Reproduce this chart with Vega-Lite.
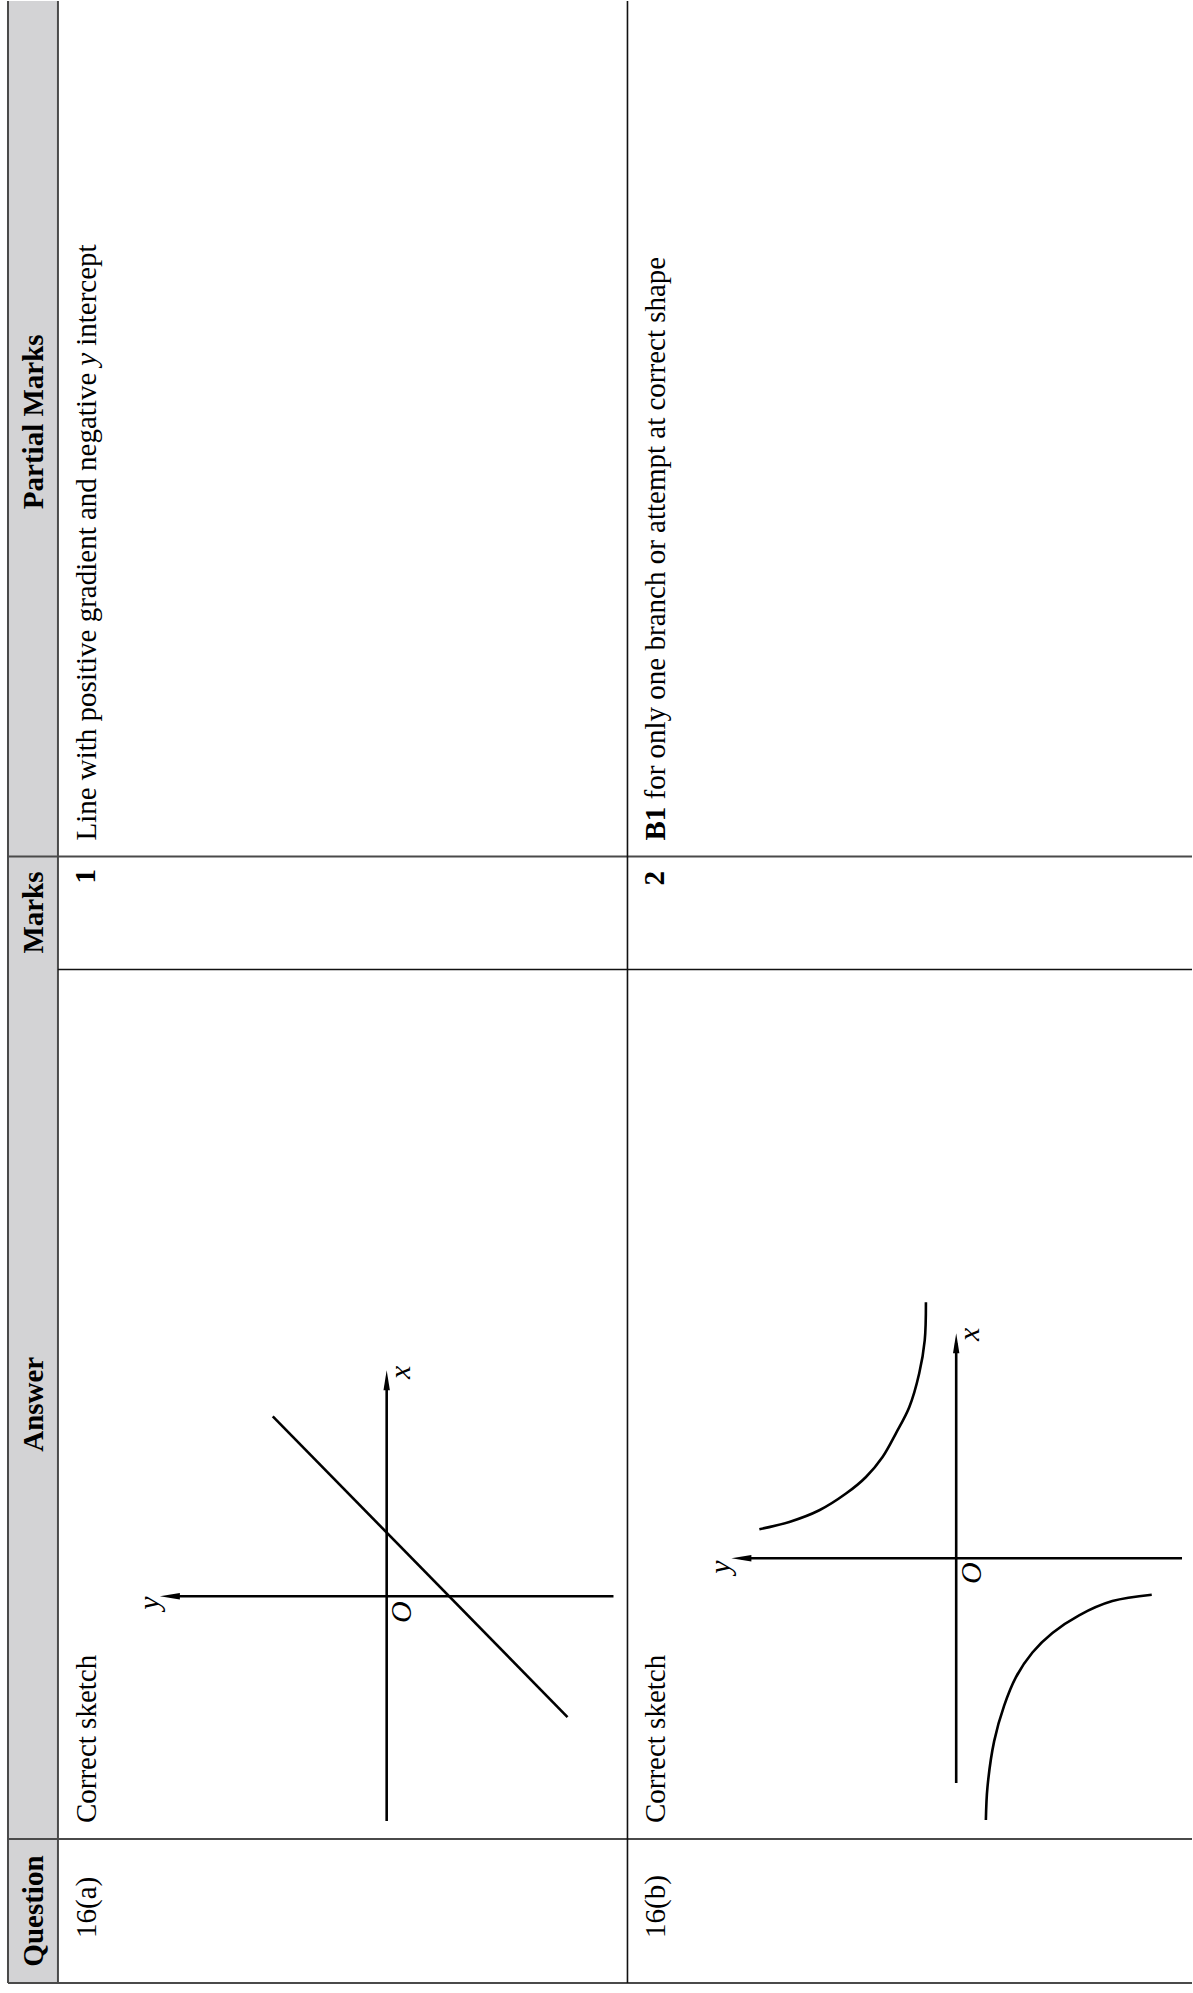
{
  "$schema": "https://vega.github.io/schema/vega-lite/v6.json",
  "width": 1193,
  "height": 1993,
  "autosize": {"type": "fit", "contains": "padding"},
  "padding": 0,
  "background": "white",
  "config": {"view": {"stroke": null}, "axis": {"disable": true}, "legend": {"disable": true}},
  "datasets": {
    "header": [{"x1": 8, "x2": 58, "y1": 0, "y2": 1983}],
    "gridGray": [
      {"x1": 8, "y1": 0, "x2": 8, "y2": 1983},
      {"x1": 58, "y1": 0, "x2": 58, "y2": 1983},
      {"x1": 8, "y1": 1983, "x2": 1193, "y2": 1983},
      {"x1": 8, "y1": 1839, "x2": 1193, "y2": 1839},
      {"x1": 8, "y1": 856, "x2": 1193, "y2": 856}
    ],
    "gridBlack": [
      {"x1": 628, "y1": 0, "x2": 628, "y2": 1983},
      {"x1": 58, "y1": 969, "x2": 1193, "y2": 969}
    ],
    "axes": [
      {"x1": 387, "y1": 1380, "x2": 387, "y2": 1821},
      {"x1": 170, "y1": 1596, "x2": 614, "y2": 1596},
      {"x1": 957, "y1": 1343, "x2": 957, "y2": 1783},
      {"x1": 742, "y1": 1558, "x2": 1183, "y2": 1558}
    ],
    "arrowUp": [{"x": 387, "y": 1380}, {"x": 957, "y": 1343}],
    "arrowLeft": [{"x": 170, "y": 1596}, {"x": 742, "y": 1558}],
    "curves": [
      {"seg": "a", "ord": 1, "x": 273, "y": 1416},
      {"seg": "a", "ord": 2, "x": 568, "y": 1717},
      {"seg": "b1", "ord": 1, "x": 926.7, "y": 1302},
      {"seg": "b1", "ord": 2, "x": 925.5, "y": 1340},
      {"seg": "b1", "ord": 3, "x": 920, "y": 1373},
      {"seg": "b1", "ord": 4, "x": 910, "y": 1407},
      {"seg": "b1", "ord": 5, "x": 896.7, "y": 1433},
      {"seg": "b1", "ord": 6, "x": 883.3, "y": 1456.7},
      {"seg": "b1", "ord": 7, "x": 866.7, "y": 1476.7},
      {"seg": "b1", "ord": 8, "x": 846.7, "y": 1493.3},
      {"seg": "b1", "ord": 9, "x": 820, "y": 1510},
      {"seg": "b1", "ord": 10, "x": 790, "y": 1521.7},
      {"seg": "b1", "ord": 11, "x": 760, "y": 1529},
      {"seg": "b2", "ord": 1, "x": 986.7, "y": 1820},
      {"seg": "b2", "ord": 2, "x": 988.3, "y": 1787},
      {"seg": "b2", "ord": 3, "x": 995, "y": 1741},
      {"seg": "b2", "ord": 4, "x": 1005, "y": 1705.5},
      {"seg": "b2", "ord": 5, "x": 1016.7, "y": 1677.2},
      {"seg": "b2", "ord": 6, "x": 1033.3, "y": 1652.3},
      {"seg": "b2", "ord": 7, "x": 1053.3, "y": 1632.8},
      {"seg": "b2", "ord": 8, "x": 1080, "y": 1615.1},
      {"seg": "b2", "ord": 9, "x": 1113.3, "y": 1600.9},
      {"seg": "b2", "ord": 10, "x": 1152.7, "y": 1594.5}
    ],
    "heads": [
      {"x": 43, "y": 1911, "t": "Question"},
      {"x": 43, "y": 1404, "t": "Answer"},
      {"x": 43, "y": 912, "t": "Marks"},
      {"x": 43, "y": 421, "t": "Partial Marks"}
    ],
    "body": [
      {"x": 96, "y": 1938, "t": "16(a)"},
      {"x": 96, "y": 1823, "t": "Correct sketch"},
      {"x": 96, "y": 840, "t": "Line with positive gradient and negative"},
      {"x": 96, "y": 345, "t": "intercept"},
      {"x": 666, "y": 1938, "t": "16(b)"},
      {"x": 666, "y": 1823, "t": "Correct sketch"},
      {"x": 666, "y": 798.9, "t": "for only one branch or attempt at correct shape"}
    ],
    "bodyBold": [
      {"x": 95, "y": 883, "t": "1"},
      {"x": 665, "y": 885, "t": "2"},
      {"x": 666, "y": 840, "t": "B1"}
    ],
    "bodyItalic": [
      {"x": 96, "y": 365, "t": "y"}
    ],
    "labels": [
      {"x": 410, "y": 1372, "t": "x"},
      {"x": 159, "y": 1603, "t": "y"},
      {"x": 411, "y": 1612, "t": "O"},
      {"x": 980, "y": 1334, "t": "x"},
      {"x": 731, "y": 1567, "t": "y"},
      {"x": 982, "y": 1573, "t": "O"}
    ]
  },
  "layer": [
    {
      "data": {"name": "header"},
      "mark": {"type": "rect", "color": "#d3d3d5"},
      "encoding": {
        "x": {"field": "x1", "type": "quantitative", "scale": {"domain": [0, 1193], "nice": false, "zero": false}},
        "x2": {"field": "x2"},
        "y": {"field": "y1", "type": "quantitative", "scale": {"domain": [0, 1993], "nice": false, "zero": false, "reverse": true}},
        "y2": {"field": "y2"}
      }
    },
    {
      "data": {"name": "gridGray"},
      "mark": {"type": "rule", "color": "#4a4a4a", "strokeWidth": 2},
      "encoding": {
        "x": {"field": "x1", "type": "quantitative", "scale": {"domain": [0, 1193], "nice": false, "zero": false}},
        "x2": {"field": "x2"},
        "y": {"field": "y1", "type": "quantitative", "scale": {"domain": [0, 1993], "nice": false, "zero": false, "reverse": true}},
        "y2": {"field": "y2"}
      }
    },
    {
      "data": {"name": "gridBlack"},
      "mark": {"type": "rule", "color": "#111111", "strokeWidth": 1.6},
      "encoding": {
        "x": {"field": "x1", "type": "quantitative", "scale": {"domain": [0, 1193], "nice": false, "zero": false}},
        "x2": {"field": "x2"},
        "y": {"field": "y1", "type": "quantitative", "scale": {"domain": [0, 1993], "nice": false, "zero": false, "reverse": true}},
        "y2": {"field": "y2"}
      }
    },
    {
      "data": {"name": "axes"},
      "mark": {"type": "rule", "color": "#000000", "strokeWidth": 2.6},
      "encoding": {
        "x": {"field": "x1", "type": "quantitative", "scale": {"domain": [0, 1193], "nice": false, "zero": false}},
        "x2": {"field": "x2"},
        "y": {"field": "y1", "type": "quantitative", "scale": {"domain": [0, 1993], "nice": false, "zero": false, "reverse": true}},
        "y2": {"field": "y2"}
      }
    },
    {
      "data": {"name": "arrowUp"},
      "mark": {"type": "point", "shape": "M0,-1L0.32,1L-0.32,1Z", "size": 400, "filled": true, "color": "#000000", "opacity": 1, "strokeWidth": 0},
      "encoding": {
        "x": {"field": "x", "type": "quantitative", "scale": {"domain": [0, 1193], "nice": false, "zero": false}},
        "y": {"field": "y", "type": "quantitative", "scale": {"domain": [0, 1993], "nice": false, "zero": false, "reverse": true}}
      }
    },
    {
      "data": {"name": "arrowLeft"},
      "mark": {"type": "point", "shape": "M-1,0L1,-0.32L1,0.32Z", "size": 400, "filled": true, "color": "#000000", "opacity": 1, "strokeWidth": 0},
      "encoding": {
        "x": {"field": "x", "type": "quantitative", "scale": {"domain": [0, 1193], "nice": false, "zero": false}},
        "y": {"field": "y", "type": "quantitative", "scale": {"domain": [0, 1993], "nice": false, "zero": false, "reverse": true}}
      }
    },
    {
      "data": {"name": "curves"},
      "mark": {"type": "line", "color": "#000000", "strokeWidth": 2.6, "interpolate": "catmull-rom"},
      "encoding": {
        "x": {"field": "x", "type": "quantitative", "scale": {"domain": [0, 1193], "nice": false, "zero": false}},
        "y": {"field": "y", "type": "quantitative", "scale": {"domain": [0, 1993], "nice": false, "zero": false, "reverse": true}},
        "detail": {"field": "seg", "type": "nominal"},
        "order": {"field": "ord", "type": "quantitative"}
      }
    },
    {
      "data": {"name": "heads"},
      "mark": {"type": "text", "font": "Liberation Serif", "fontSize": 29, "fontWeight": "bold", "angle": 270, "align": "center", "baseline": "alphabetic", "color": "#000000"},
      "encoding": {
        "x": {"field": "x", "type": "quantitative", "scale": {"domain": [0, 1193], "nice": false, "zero": false}},
        "y": {"field": "y", "type": "quantitative", "scale": {"domain": [0, 1993], "nice": false, "zero": false, "reverse": true}},
        "text": {"field": "t"}
      }
    },
    {
      "data": {"name": "body"},
      "mark": {"type": "text", "font": "Liberation Serif", "fontSize": 29, "angle": 270, "align": "left", "baseline": "alphabetic", "color": "#000000"},
      "encoding": {
        "x": {"field": "x", "type": "quantitative", "scale": {"domain": [0, 1193], "nice": false, "zero": false}},
        "y": {"field": "y", "type": "quantitative", "scale": {"domain": [0, 1993], "nice": false, "zero": false, "reverse": true}},
        "text": {"field": "t"}
      }
    },
    {
      "data": {"name": "bodyBold"},
      "mark": {"type": "text", "font": "Liberation Serif", "fontSize": 29, "fontWeight": "bold", "angle": 270, "align": "left", "baseline": "alphabetic", "color": "#000000"},
      "encoding": {
        "x": {"field": "x", "type": "quantitative", "scale": {"domain": [0, 1193], "nice": false, "zero": false}},
        "y": {"field": "y", "type": "quantitative", "scale": {"domain": [0, 1993], "nice": false, "zero": false, "reverse": true}},
        "text": {"field": "t"}
      }
    },
    {
      "data": {"name": "bodyItalic"},
      "mark": {"type": "text", "font": "Liberation Serif", "fontSize": 29, "fontStyle": "italic", "angle": 270, "align": "left", "baseline": "alphabetic", "color": "#000000"},
      "encoding": {
        "x": {"field": "x", "type": "quantitative", "scale": {"domain": [0, 1193], "nice": false, "zero": false}},
        "y": {"field": "y", "type": "quantitative", "scale": {"domain": [0, 1993], "nice": false, "zero": false, "reverse": true}},
        "text": {"field": "t"}
      }
    },
    {
      "data": {"name": "labels"},
      "mark": {"type": "text", "font": "Liberation Serif", "fontSize": 30, "fontStyle": "italic", "angle": 270, "align": "center", "baseline": "alphabetic", "color": "#000000"},
      "encoding": {
        "x": {"field": "x", "type": "quantitative", "scale": {"domain": [0, 1193], "nice": false, "zero": false}},
        "y": {"field": "y", "type": "quantitative", "scale": {"domain": [0, 1993], "nice": false, "zero": false, "reverse": true}},
        "text": {"field": "t"}
      }
    }
  ]
}
